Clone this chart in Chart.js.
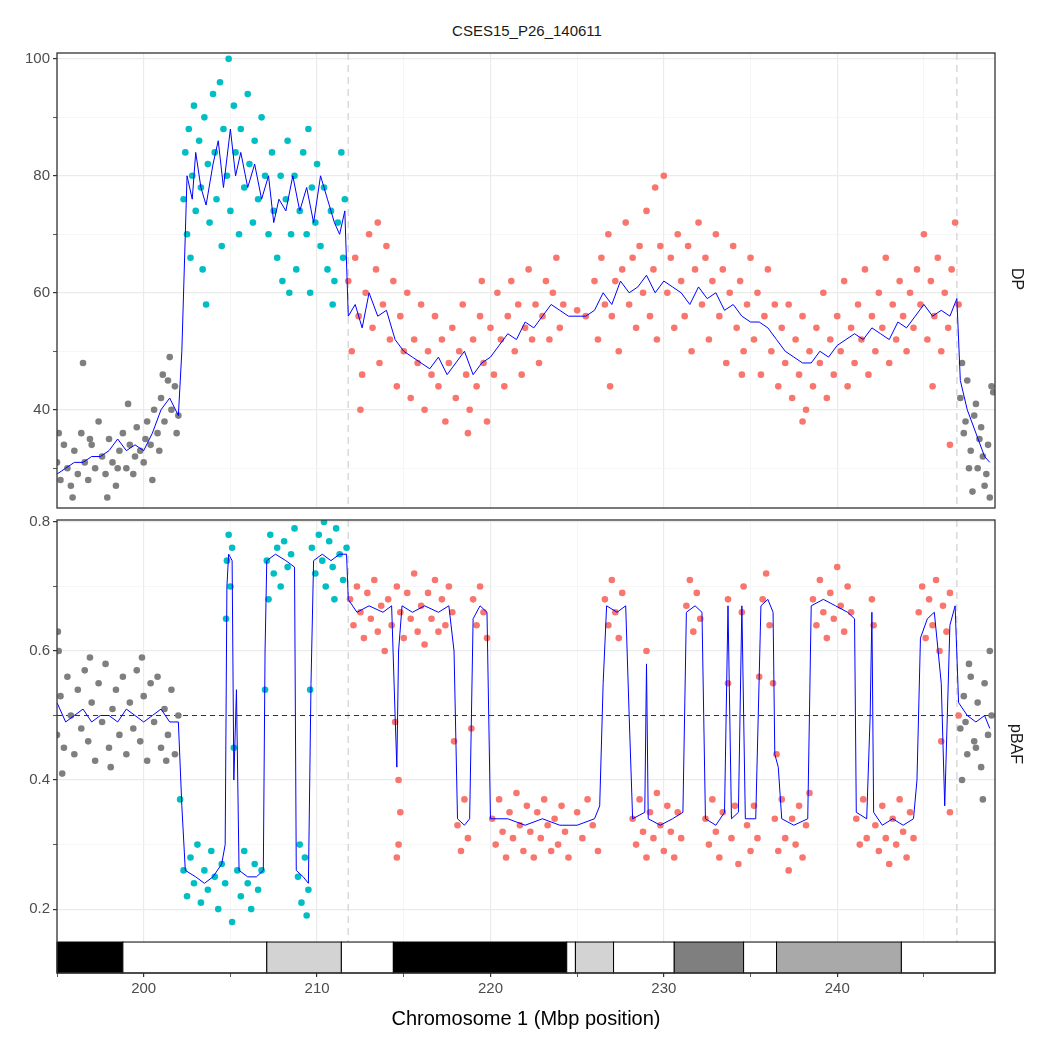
<!DOCTYPE html>
<html>
<head>
<meta charset="utf-8">
<script src="https://cdn.jsdelivr.net/npm/chart.js@4"></script>
<style>
  body { margin: 0; background: #fff; font-family: "Liberation Sans", Arial, sans-serif; }
  #wrap { position: relative; width: 1050px; height: 1050px; }
  .box { position: absolute; left: 0; width: 1050px; }
  .strip { position: absolute; font-size: 16px; color: #1a1a1a; transform: rotate(90deg); transform-origin: center; }
  #title { position: absolute; top: 22px; left: 0; width: 1050px; text-align: center; font-size: 15px; color: #1a1a1a; padding-left: 2px; }
</style>
</head>
<body>
<div id="wrap">
  <div id="title">CSES15_P26_140611</div>
  <div class="box" style="top:0;height:520px"><canvas id="dpChart"></canvas></div>
  <div class="box" style="top:508px;height:527px"><canvas id="bafChart"></canvas></div>
  <div class="strip" style="left:1006px;top:270px">DP</div>
  <div class="strip" style="left:996px;top:735px">pBAF</div>
</div>
<script>
// ---- data (x = Mbp, y = value) ----
const dpGrey = [[195.0,31],[195.2,28],[195.4,34],[195.6,30],[195.8,27],[196.0,33],[196.2,29],[196.4,36],[196.6,31],[196.8,28],[197.0,34],[197.2,30],[197.4,38],[197.6,32],[197.8,29],[198.0,35],[198.2,31],[198.4,27],[198.6,33],[198.8,36],[199.0,30],[199.2,34],[199.4,29],[199.6,37],[199.8,33],[200.0,31],[200.2,38],[200.4,34],[200.6,40],[200.8,36],[201.0,42],[201.2,38],[201.4,45],[201.6,40],[201.8,44],[202.0,39],[196.5,48],[197.9,25],[199.1,41],[200.5,28],[201.5,49],[201.9,36],[195.1,36],[195.9,25],[196.9,35],[198.5,30],[199.5,32],[200.1,35],[200.9,33],[201.1,46],
  [247.1,42],[247.3,36],[247.5,45],[247.7,33],[247.9,39],[248.1,30],[248.3,37],[248.5,27],[248.7,34],[248.9,44],[247.2,48],[247.6,30],[248.0,41],[248.4,32],[248.8,25],[247.4,38],[248.2,35],[248.6,29],[249.0,43],[247.8,26]];
const dpCyan = [[202.3,76],[202.4,84],[202.5,70],[202.6,88],[202.7,66],[202.8,80],[202.9,92],[203.0,74],[203.2,86],[203.3,78],[203.4,64],[203.5,90],[203.7,82],[203.8,72],[204.0,94],[204.1,84],[204.2,76],[204.4,96],[204.5,68],[204.6,88],[204.8,80],[204.9,100],[205.0,74],[205.2,92],[205.3,84],[205.5,70],[205.6,88],[205.8,78],[206.0,94],[206.1,82],[206.3,72],[206.4,86],[206.6,76],[206.8,90],[207.0,80],[207.2,70],[207.4,84],[207.5,74],[207.7,66],[207.9,80],[208.0,62],[208.2,76],[208.3,86],[208.5,70],[208.7,80],[208.8,64],[209.0,74],[209.2,84],[209.4,70],[209.5,88],[209.7,78],[209.9,72],[210.0,82],[210.2,68],[210.4,78],[210.6,64],[210.8,74],[211.0,62],[211.2,72],[211.4,84],[211.5,66],[211.6,76],[203.6,58],[208.4,60],[209.6,60],[210.9,58]];
const dpSalmon = [[211.8,62],[212.0,50],[212.2,66],[212.4,56],[212.6,46],[212.8,60],[213.0,70],[213.2,54],[213.4,64],[213.6,48],[213.8,58],[214.0,68],[214.2,52],[214.4,62],[214.6,44],[214.8,56],[215.0,50],[215.2,60],[215.4,42],[215.6,52],[215.8,48],[216.0,58],[216.2,40],[216.4,50],[216.6,46],[216.8,56],[217.0,44],[217.2,52],[217.4,38],[217.6,48],[217.8,54],[218.0,42],[218.2,50],[218.4,58],[218.6,46],[218.8,40],[219.0,52],[219.2,44],[219.4,56],[219.6,48],[219.8,38],[220.0,54],[220.2,46],[220.4,60],[220.6,52],[220.8,44],[221.0,56],[221.2,62],[221.4,50],[221.6,58],[221.8,46],[222.0,54],[222.2,64],[222.4,52],[222.6,58],[222.8,48],[223.0,56],[223.2,62],[223.4,52],[223.6,60],[223.8,66],[224.0,54],[224.2,58],[225.5,56],[226.0,62],[226.2,52],[226.4,66],[226.6,58],[226.8,70],[227.0,56],[227.2,62],[227.4,50],[227.6,64],[227.8,72],[228.0,58],[228.2,66],[228.4,54],[228.6,68],[228.8,60],[229.0,74],[229.2,56],[229.4,64],[229.6,52],[229.8,68],[230.0,80],[230.2,60],[230.4,66],[230.6,54],[230.8,70],[231.0,62],[231.2,56],[231.4,68],[231.6,50],[231.8,64],[232.0,72],[232.2,58],[232.4,66],[232.6,52],[232.8,62],[233.0,70],[233.2,56],[233.4,64],[233.6,48],[233.8,60],[234.0,68],[234.2,54],[234.4,62],[234.6,50],[234.8,58],[235.0,66],[235.2,52],[235.4,60],[235.6,46],[235.8,56],[236.0,64],[236.2,50],[236.4,58],[236.6,44],[236.8,54],[237.0,48],[237.2,58],[237.4,42],[237.6,52],[237.8,46],[238.0,56],[238.2,40],[238.4,50],[238.6,44],[238.8,54],[239.0,48],[239.2,60],[239.4,42],[239.6,52],[239.8,46],[240.0,56],[240.2,50],[240.4,62],[240.6,44],[240.8,54],[241.0,48],[241.2,58],[241.4,52],[241.6,64],[241.8,46],[242.0,56],[242.2,50],[242.4,60],[242.6,54],[242.8,66],[243.0,48],[243.2,58],[243.4,52],[243.6,62],[243.8,56],[244.0,50],[244.2,60],[244.4,54],[244.6,64],[244.8,58],[245.0,70],[245.2,52],[245.4,62],[245.6,56],[245.8,66],[246.0,50],[246.2,60],[246.4,54],[246.6,64],[246.8,72],[247.0,58],
  [212.5,40],[218.7,36],[225.0,57],[226.9,44],[229.5,78],[234.5,46],[238.0,38],[245.5,44],[246.5,34],[219.5,62],[213.5,72]];
const dpLine = [[195.0,29],[195.5,30],[196.0,31],[196.5,31],[197.0,32],[197.5,32],[198.0,33],[198.5,35],[199.0,33],[199.5,34],[200.0,33],[200.5,36],[201.0,40],[201.5,42],[202.0,39],[202.2,50],[202.5,80],[202.8,76],[203.0,84],[203.3,78],[203.6,75],[204.0,82],[204.3,86],[204.6,78],[205.0,88],[205.3,80],[205.6,84],[206.0,78],[206.4,82],[206.8,76],[207.2,80],[207.5,72],[207.8,76],[208.2,74],[208.6,80],[209.0,74],[209.4,78],[209.8,72],[210.2,80],[210.6,76],[211.0,72],[211.3,70],[211.6,74],[211.8,56],[212.2,58],[212.6,54],[213.0,60],[213.5,56],[214.0,57],[214.5,52],[215.0,50],[215.5,49],[216.0,48],[216.5,47],[217.0,49],[217.5,46],[218.0,48],[218.5,50],[219.0,46],[219.5,48],[220.0,49],[220.5,51],[221.0,53],[221.5,52],[222.0,55],[222.5,54],[223.0,56],[223.5,58],[224.0,57],[224.5,56],[225.5,56],[226.0,57],[226.5,60],[227.0,58],[227.5,62],[228.0,60],[228.5,61],[229.0,63],[229.5,60],[230.0,62],[230.5,61],[231.0,60],[231.5,58],[232.0,61],[232.5,59],[233.0,60],[233.5,57],[234.0,58],[234.5,56],[235.0,55],[235.5,55],[236.0,54],[236.5,52],[237.0,50],[237.5,49],[238.0,48],[238.5,48],[239.0,50],[239.5,49],[240.0,51],[240.5,52],[241.0,53],[241.5,52],[242.0,54],[242.5,53],[243.0,52],[243.5,55],[244.0,54],[244.5,56],[245.0,58],[245.5,56],[246.0,57],[246.5,56],[246.9,59],[247.1,45],[247.5,40],[248.0,36],[248.5,32],[248.8,31]];

const bafGrey = [[195.0,.47],[195.2,.53],[195.4,.45],[195.6,.56],[195.8,.50],[196.0,.44],[196.2,.54],[196.4,.48],[196.6,.57],[196.8,.46],[197.0,.52],[197.2,.43],[197.4,.55],[197.6,.49],[197.8,.58],[198.0,.45],[198.2,.51],[198.4,.54],[198.6,.47],[198.8,.56],[199.0,.44],[199.2,.52],[199.4,.48],[199.6,.57],[199.8,.46],[200.0,.53],[200.2,.43],[200.4,.55],[200.6,.49],[200.8,.56],[201.0,.45],[201.2,.51],[201.4,.47],[201.6,.54],[201.8,.44],[202.0,.50],[195.1,.60],[195.3,.41],[196.9,.59],[198.1,.42],[199.9,.59],[201.3,.43],[195.05,.63],
  [247.1,.48],[247.3,.53],[247.5,.44],[247.7,.56],[247.9,.46],[248.1,.52],[248.3,.42],[248.5,.55],[248.7,.47],[248.9,.50],[247.2,.40],[247.6,.58],[248.0,.45],[248.4,.37],[248.8,.60],[247.4,.49]];
const bafCyan = [[202.3,.26],[202.5,.22],[202.7,.28],[202.9,.24],[203.1,.30],[203.3,.21],[203.5,.26],[203.7,.23],[203.9,.29],[204.1,.25],[204.3,.20],[204.5,.27],[204.7,.24],[205.4,.26],[205.6,.22],[205.8,.29],[206.0,.24],[206.2,.20],[206.4,.27],[206.6,.23],[206.8,.26],[205.1,.18],[208.9,.25],[209.1,.21],[209.3,.28],[209.5,.23],[209.0,.30],[209.4,.19],
  [204.8,.74],[204.9,.78],[205.0,.70],[205.1,.76],[207.1,.74],[207.3,.78],[207.5,.72],[207.7,.76],[207.9,.70],[208.1,.77],[208.3,.73],[208.5,.75],[208.7,.79],[207.2,.68],[209.7,.76],[209.9,.72],[210.1,.78],[210.3,.74],[210.5,.70],[210.7,.77],[210.9,.73],[211.1,.79],[211.3,.75],[211.5,.71],[211.7,.76],[210.4,.80],[211.0,.68],
  [202.1,.37],[204.75,.65],[207.0,.54],[209.6,.54],[205.2,.45]];
const bafSalmon = [[211.9,.68],[212.1,.64],[212.3,.70],[212.5,.66],[212.7,.62],[212.9,.69],[213.1,.65],[213.3,.71],[213.5,.63],[213.7,.67],[213.9,.60],[214.1,.68],[214.3,.64],[214.6,.70],[214.8,.66],[215.0,.62],[215.2,.69],[215.4,.65],[215.6,.72],[215.8,.63],[216.0,.67],[216.2,.61],[216.4,.69],[216.6,.65],[216.8,.71],[217.0,.63],[217.2,.68],[217.4,.64],[217.6,.70],[217.8,.66],[219.0,.68],[219.2,.64],[219.4,.70],[219.6,.66],[219.8,.62],[226.6,.68],[226.8,.64],[227.0,.71],[227.2,.66],[227.4,.62],[227.6,.69],[231.3,.67],[231.5,.71],[231.7,.63],[231.9,.69],[232.1,.65],[233.7,.68],[234.5,.66],[234.6,.70],[235.7,.68],[235.9,.72],[236.1,.64],[238.6,.68],[238.8,.64],[239.0,.71],[239.2,.66],[239.4,.62],[239.6,.69],[239.8,.65],[240.0,.73],[240.2,.67],[240.4,.63],[240.6,.70],[240.8,.66],[242.0,.68],[244.7,.66],[244.9,.70],[245.1,.62],[245.3,.68],[245.5,.64],[245.7,.71],[245.9,.60],[246.1,.67],[246.3,.63],[246.5,.69],
  [218.1,.33],[218.3,.29],[218.5,.37],[218.7,.31],[220.1,.34],[220.3,.30],[220.5,.37],[220.7,.32],[220.9,.28],[221.1,.35],[221.3,.31],[221.5,.38],[221.7,.33],[221.9,.29],[222.1,.36],[222.3,.32],[222.5,.28],[222.7,.35],[222.9,.31],[223.1,.37],[223.3,.33],[223.5,.29],[223.7,.34],[223.9,.30],[224.1,.36],[224.3,.32],[224.5,.28],[225.0,.35],[225.3,.31],[225.6,.37],[225.9,.33],[226.2,.29],[228.2,.34],[228.4,.30],[228.6,.37],[228.8,.32],[229.0,.28],[229.2,.35],[229.4,.31],[229.6,.38],[229.8,.33],[230.0,.29],[230.2,.36],[230.4,.32],[230.6,.28],[230.8,.35],[231.0,.31],[232.4,.34],[232.6,.30],[232.8,.37],[233.0,.32],[233.2,.28],[233.4,.35],[233.9,.31],[234.1,.36],[234.3,.27],[234.8,.33],[235.0,.29],[235.2,.36],[235.4,.31],[236.4,.34],[236.6,.29],[236.8,.37],[237.0,.31],[237.2,.26],[237.4,.34],[237.6,.30],[237.8,.36],[238.0,.28],[238.2,.33],[238.4,.38],[241.1,.34],[241.3,.30],[241.5,.37],[241.7,.31],[242.2,.33],[242.4,.29],[242.6,.36],[242.8,.31],[243.0,.27],[243.2,.34],[243.4,.30],[243.6,.37],[243.8,.32],[244.0,.28],[244.2,.35],[244.4,.31],
  [214.5,.49],[214.6,.28],[214.7,.30],[214.8,.35],[214.7,.40],[217.9,.46],[218.9,.48],[229.0,.60],[236.3,.55],[236.5,.44],[242.1,.64],[246.0,.46],[246.5,.35],[247.0,.50],[233.7,.55],[235.5,.56]];
const bafLine = [[195.0,.52],[195.5,.49],[196.0,.50],[196.5,.51],[197.0,.49],[197.5,.50],[198.0,.50],[198.5,.49],[199.0,.51],[199.5,.50],[200.0,.49],[200.5,.50],[201.0,.51],[201.5,.49],[202.0,.49],[202.2,.36],[202.4,.26],[203.0,.25],[203.5,.24],[204.0,.25],[204.5,.27],[204.7,.30],[204.8,.70],[204.9,.75],[205.1,.74],[205.2,.40],[205.35,.54],[205.5,.26],[206.0,.25],[206.5,.25],[206.9,.26],[207.0,.60],[207.1,.74],[207.6,.75],[208.2,.74],[208.7,.73],[208.8,.26],[209.2,.25],[209.5,.24],[209.65,.55],[209.8,.74],[210.3,.75],[210.8,.74],[211.3,.75],[211.7,.75],[211.8,.68],[212.3,.66],[213.0,.67],[213.8,.66],[214.3,.67],[214.5,.50],[214.6,.42],[214.7,.60],[214.9,.67],[215.5,.66],[216.2,.67],[217.0,.66],[217.6,.67],[217.9,.60],[218.1,.34],[218.5,.33],[218.8,.34],[219.0,.65],[219.4,.67],[219.8,.66],[220.0,.34],[221.0,.34],[222.0,.33],[223.0,.34],[224.0,.33],[225.0,.33],[226.0,.34],[226.3,.36],[226.5,.55],[226.7,.67],[227.3,.66],[227.8,.67],[228.0,.50],[228.2,.34],[228.9,.35],[229.0,.58],[229.1,.34],[229.8,.33],[230.5,.34],[231.1,.35],[231.3,.66],[231.8,.67],[232.2,.66],[232.4,.34],[233.0,.33],[233.5,.35],[233.7,.67],[233.9,.34],[234.3,.35],[234.5,.67],[234.7,.34],[235.3,.34],[235.6,.67],[236.0,.68],[236.3,.66],[236.4,.44],[236.6,.42],[236.8,.34],[237.5,.33],[238.3,.34],[238.5,.67],[239.2,.68],[239.9,.67],[240.6,.66],[241.0,.65],[241.1,.35],[241.7,.34],[241.9,.50],[242.0,.66],[242.1,.35],[242.6,.33],[243.2,.34],[243.8,.33],[244.4,.34],[244.6,.40],[244.8,.62],[245.2,.65],[245.6,.66],[246.0,.55],[246.2,.36],[246.5,.64],[246.8,.67],[247.0,.52],[247.5,.50],[248.0,.49],[248.5,.50],[248.8,.48]];

// chromosome bands: start, end, fill
const bandStarts = [195.0, 198.8, 207.1, 211.4, 214.4, 224.4, 224.9, 227.1, 230.6, 234.6, 236.5, 243.7];
const bandEnds   = [198.8, 207.1, 211.4, 214.4, 224.4, 224.9, 227.1, 230.6, 234.6, 236.5, 243.7, 249.1];
const bandFills  = ['#000000','#ffffff','#d3d3d3','#ffffff','#000000','#ffffff','#d3d3d3','#ffffff','#7f7f7f','#ffffff','#a9a9a9','#ffffff'];

const boundaries = [211.8, 246.9];
const xTicks = [200, 210, 220, 230, 240];
const xMin = 195.0, xMax = 249.1;

const toPts = arr => arr.map(p => ({x: p[0], y: p[1]}));
const font = {family: '"Liberation Sans", Arial, sans-serif', size: 15};
const tickColor = '#4d4d4d';

function pointSet(data, color) {
  return {type: 'scatter', data: toPts(data), backgroundColor: color, borderWidth: 0, pointRadius: 3.3, order: 2};
}
function lineSet(data) {
  return {type: 'line', data: toPts(data), borderColor: '#0000ff', borderWidth: 1, pointRadius: 0, tension: 0, order: 1};
}

const panelPlugin = {
  id: 'panel',
  beforeDatasetsDraw(chart, args, opts) {
    const {ctx, chartArea: a, scales: {x, y}} = chart;
    ctx.save();
    ctx.strokeStyle = '#d9d9d9';
    ctx.lineWidth = 1.5;
    ctx.setLineDash([7, 5]);
    boundaries.forEach(b => {
      const px = x.getPixelForValue(b);
      ctx.beginPath(); ctx.moveTo(px, a.top); ctx.lineTo(px, opts.bandTop ? y.getPixelForValue(opts.bandTop) : a.bottom); ctx.stroke();
    });
    if (opts.hline != null) {
      ctx.strokeStyle = '#333';
      ctx.lineWidth = 1;
      ctx.setLineDash([5, 4]);
      const py = y.getPixelForValue(opts.hline);
      ctx.beginPath(); ctx.moveTo(a.left, py); ctx.lineTo(a.right, py); ctx.stroke();
    }
    ctx.restore();
  },
  afterDatasetsDraw(chart, args, opts) {
    const {ctx, chartArea: a, scales: {x, y}} = chart;
    ctx.save();
    if (opts.bandTop) {
      const top = y.getPixelForValue(opts.bandTop), bot = a.bottom;
      ctx.lineWidth = 1;
      ctx.strokeStyle = '#000';
      bandStarts.forEach((s, i) => {
        const l = x.getPixelForValue(s), r = x.getPixelForValue(bandEnds[i]);
        ctx.fillStyle = bandFills[i];
        ctx.fillRect(l, top, r - l, bot - top);
        ctx.strokeRect(l, top, r - l, bot - top);
      });
    }
    ctx.strokeStyle = '#333';
    ctx.lineWidth = 1.3;
    ctx.strokeRect(a.left, a.top, a.right - a.left, a.bottom - a.top);
    ctx.restore();
  }
};

function gridColor(ctx) {
  return ctx.tick && ctx.tick.major ? '#ebebeb' : '#f4f4f4';
}

function makeX(show) {
  return {
    type: 'linear', min: xMin, max: xMax,
    afterBuildTicks: s => { s.ticks = [195, 200, 205, 210, 215, 220, 225, 230, 235, 240, 245].map(v => ({value: v, major: xTicks.includes(v)})); },
    grid: {color: gridColor, lineWidth: c => (c.tick && c.tick.major ? 1.2 : 0.8), drawTicks: show, tickLength: 4, tickColor: '#333'},
    border: {display: false},
    ticks: {display: show, color: tickColor, font, maxRotation: 0, padding: 3,
      callback: v => xTicks.includes(v) ? v : ''},
    title: {display: show, text: 'Chromosome 1 (Mbp position)', color: '#000', font: {family: font.family, size: 20}, padding: {top: 6}}
  };
}

function makeY(min, max, all, labels, fmt) {
  return {
    type: 'linear', min, max,
    afterBuildTicks: s => { s.ticks = all.map(v => ({value: v, major: labels.includes(v)})); },
    grid: {color: gridColor, lineWidth: c => (c.tick && c.tick.major ? 1.2 : 0.8), tickLength: 4, tickColor: '#333'},
    border: {display: false},
    ticks: {color: tickColor, font, padding: 3, callback: v => labels.includes(v) ? fmt(v) : ''},
    afterFit: s => { s.width = 57; }
  };
}

Chart.defaults.animation = false;

new Chart(document.getElementById('dpChart'), {
  data: {datasets: [pointSet(dpGrey, '#7f7f7f'), pointSet(dpCyan, '#00bfc4'), pointSet(dpSalmon, '#f8766d'), lineSet(dpLine)]},
  options: {
    responsive: true, maintainAspectRatio: false,
    layout: {padding: {top: 53, right: 55, bottom: 1, left: 0}},
    plugins: {legend: {display: false}, tooltip: {enabled: false}, panel: {}},
    scales: {
      x: makeX(false),
      y: makeY(23.2, 101, [30, 40, 50, 60, 70, 80, 90, 100], [40, 60, 80, 100], v => v)
    }
  },
  plugins: [panelPlugin]
});

new Chart(document.getElementById('bafChart'), {
  data: {datasets: [pointSet(bafGrey, '#7f7f7f'), pointSet(bafCyan, '#00bfc4'), pointSet(bafSalmon, '#f8766d'), lineSet(bafLine)]},
  options: {
    responsive: true, maintainAspectRatio: false,
    layout: {padding: {top: 1, right: 55, bottom: 0, left: 0}},
    plugins: {legend: {display: false}, tooltip: {enabled: false}, panel: {hline: 0.5, bandTop: 0.149}},
    scales: {
      x: makeX(true),
      y: makeY(0.101, 0.803, [0.2, 0.3, 0.4, 0.5, 0.6, 0.7, 0.8], [0.2, 0.4, 0.6, 0.8], v => v.toFixed(1))
    }
  },
  plugins: [panelPlugin]
});
</script>
</body>
</html>
